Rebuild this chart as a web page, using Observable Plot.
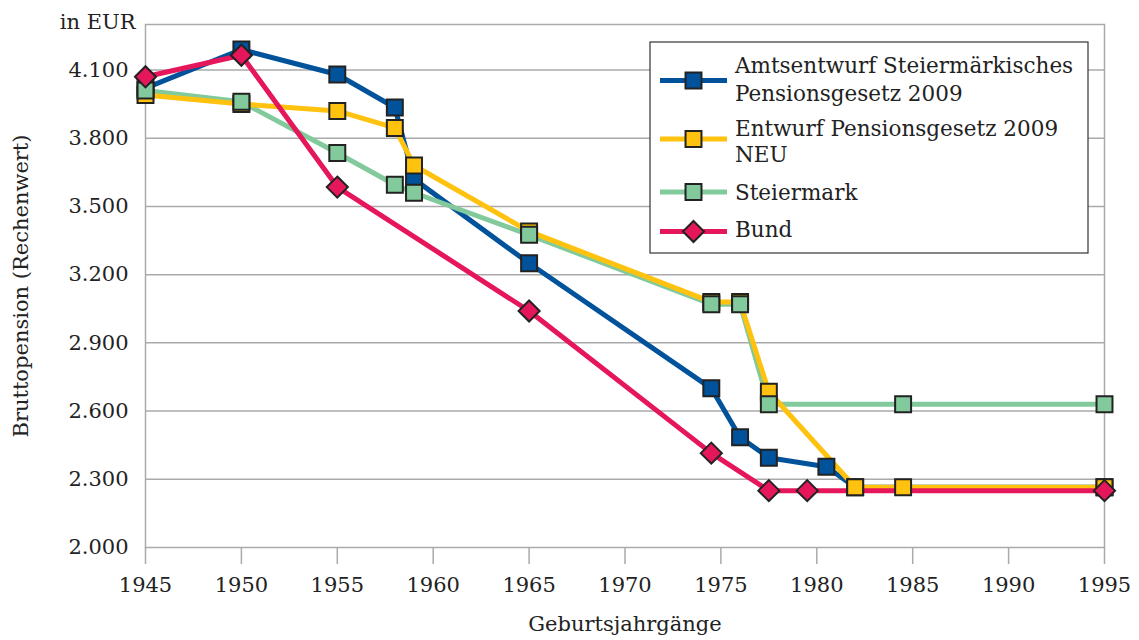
<!DOCTYPE html>
<html>
<head>
<meta charset="utf-8">
<script src="https://cdn.jsdelivr.net/npm/d3@7"></script>
<script src="https://cdn.jsdelivr.net/npm/@observablehq/plot@0.6"></script>
<style>
  html, body { margin: 0; padding: 0; background: #fff; }
</style>
</head>
<body>
<div id="chart"></div>
<script>
// ---- data ----
const seriesNames = [
  "Amtsentwurf Steiermärkisches Pensionsgesetz 2009",
  "Entwurf Pensionsgesetz 2009 NEU",
  "Steiermark",
  "Bund"
];
const legendLines = [
  ["Amtsentwurf Steiermärkisches", "Pensionsgesetz 2009"],
  ["Entwurf Pensionsgesetz 2009", "NEU"],
  ["Steiermark"],
  ["Bund"]
];
const amtYears = [1945, 1950, 1955, 1958, 1959, 1965, 1974.5, 1976, 1977.5, 1980.5, 1982, 1995];
const amtValues = [4020, 4190, 4080, 3935, 3620, 3250, 2700, 2485, 2395, 2355, 2265, 2265];
const neuYears = [1945, 1950, 1955, 1958, 1959, 1965, 1974.5, 1976, 1977.5, 1982, 1984.5, 1995];
const neuValues = [3990, 3950, 3920, 3845, 3680, 3390, 3080, 3080, 2685, 2265, 2265, 2265];
const stmkYears = [1945, 1950, 1955, 1958, 1959, 1965, 1974.5, 1976, 1977.5, 1984.5, 1995];
const stmkValues = [4010, 3960, 3735, 3595, 3560, 3375, 3070, 3070, 2630, 2630, 2630];
const bundYears = [1945, 1950, 1955, 1965, 1974.5, 1977.5, 1979.5, 1995];
const bundValues = [4070, 4165, 3585, 3040, 2415, 2250, 2250, 2250];
const xTicks = [1945, 1950, 1955, 1960, 1965, 1970, 1975, 1980, 1985, 1990, 1995];
const yTicks = [2000, 2300, 2600, 2900, 3200, 3500, 3800, 4100];

const colors = ["#00529B", "#FFC20E", "#82CA9C", "#E5175A"];
const symbols = ["square", "square", "square", "diamond2"];

const table = (years, values, s) => years.map((x, i) => ({x, y: values[i], s}));
const data = [
  table(amtYears, amtValues, 0),
  table(neuYears, neuValues, 1),
  table(stmkYears, stmkValues, 2),
  table(bundYears, bundValues, 3)
];

const fmt = d => d3.format(",")(d).replace(",", ".");

const lineOrder = [0, 2, 1, 3];
const dotOrder = [0, 1, 2, 3];

const svg = Plot.plot({
  width: 1139,
  height: 640,
  marginLeft: 145,
  marginRight: 35,
  marginTop: 24,
  marginBottom: 93,
  style: {fontFamily: "'DejaVu Serif', serif", fontSize: "21px", color: "#222", background: "#fff"},
  x: {domain: [1945, 1995]},
  y: {domain: [2000, 4300]},
  marks: [
    Plot.ruleY(yTicks.slice(1), {stroke: "#aaa", strokeWidth: 1.5}),
    Plot.frame({stroke: "#aaa", strokeWidth: 1.5}),
    Plot.axisX({ticks: xTicks, tickFormat: d => String(d), tickSize: 17, tickPadding: 13,
      label: "Geburtsjahrgänge", labelAnchor: "center", labelArrow: "none", labelOffset: 83}),
    Plot.axisY({ticks: yTicks, tickFormat: fmt, tickSize: 0, tickPadding: 17,
      label: "Bruttopension (Rechenwert)", labelAnchor: "center", labelArrow: "none", labelOffset: 132}),
    ...lineOrder.map(i => Plot.line(data[i], {x: "x", y: "y", stroke: colors[i], strokeWidth: 5, strokeLinejoin: "round"})),
    ...dotOrder.map(i => Plot.dot(data[i], {x: "x", y: "y", symbol: symbols[i], r: i === 3 ? 9.5 : 9,
      fill: colors[i], stroke: "#222", strokeWidth: 2})),
    Plot.text(["in EUR"], {frameAnchor: "top-left", textAnchor: "end", dx: -10, dy: -10, fill: "#222"})
  ]
});

// gray tick marks
d3.select(svg).selectAll('g[aria-label="x-axis tick"] path').attr("stroke", "#aaa").attr("stroke-width", 1.5);

// legend
const lg = d3.select(svg).append("g").attr("class", "legend")
  .attr("text-anchor", "start").attr("font-size", "21.5px");
lg.append("rect").attr("x", 650).attr("y", 42).attr("width", 438).attr("height", 211)
  .attr("fill", "#fff").attr("stroke", "#333").attr("stroke-width", 1.2);
const markerY = [80.5, 139, 192, 231.5];
const textY = [[65, 93], [128, 154], [192], [229]];
seriesNames.forEach((name, i) => {
  const gi = lg.append("g");
  gi.append("line").attr("x1", 660).attr("x2", 727).attr("y1", markerY[i]).attr("y2", markerY[i])
    .attr("stroke", colors[i]).attr("stroke-width", 5);
  const sym = i === 3 ? d3.symbolDiamond2 : d3.symbolSquare;
  const size = Math.PI * (i === 3 ? 9.5 : 9) ** 2;
  gi.append("path").attr("d", d3.symbol(sym, size)()).attr("transform", `translate(693.5,${markerY[i]})`)
    .attr("fill", colors[i]).attr("stroke", "#222").attr("stroke-width", 2);
  legendLines[i].forEach((t, j) => {
    gi.append("text").attr("x", 735).attr("y", textY[i][j]).attr("dy", "0.35em")
      .attr("fill", "#222").text(t);
  });
});

document.getElementById("chart").appendChild(svg);
</script>
</body>
</html>
